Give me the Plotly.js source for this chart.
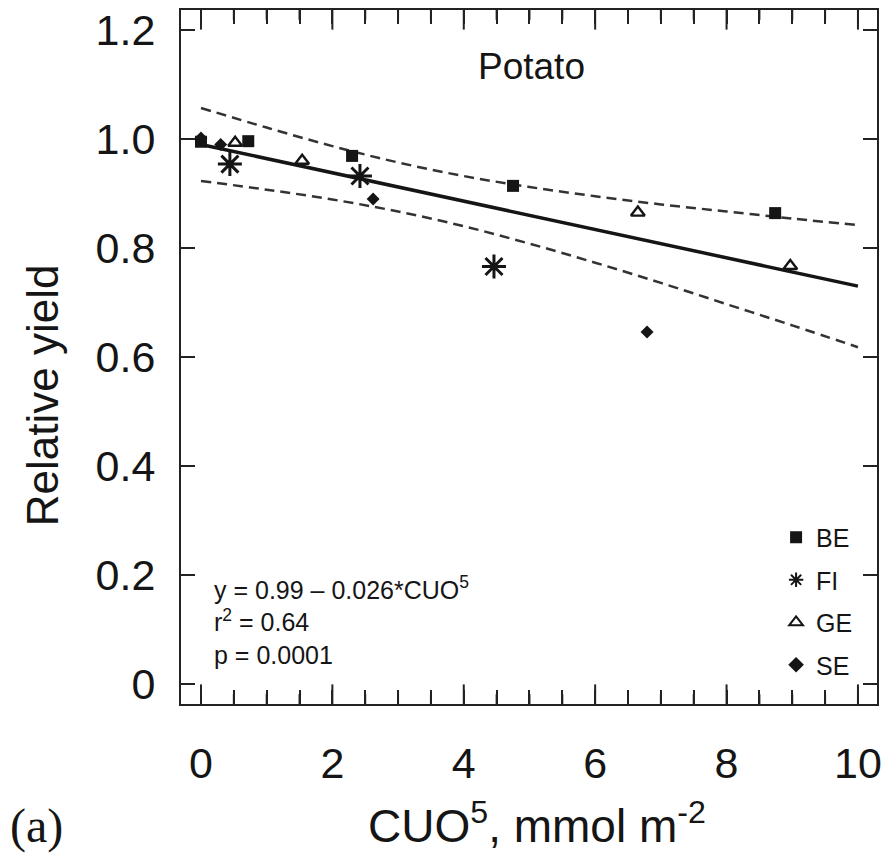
<!DOCTYPE html>
<html>
<head>
<meta charset="utf-8">
<script src="https://cdn.plot.ly/plotly-3.0.1.min.js"></script>
<style>html,body{margin:0;padding:0;background:#fff;}#chart{width:890px;height:855px;}</style>
</head>
<body>
<div id="chart"></div>
<script>
// Observed points, relative yield vs CUO5 (mmol m-2)
const beX = [0.0, 0.72, 2.30, 4.75, 8.74];
const beY = [0.995, 0.996, 0.969, 0.914, 0.864];
const fiX = [0.44, 2.42, 4.46];
const fiY = [0.954, 0.932, 0.766];
const geX = [0.52, 1.54, 6.65, 8.97];
const geY = [0.993, 0.960, 0.865, 0.767];
const seX = [0.0, 0.30, 2.62, 6.79];
const seY = [1.002, 0.990, 0.890, 0.646];

// Regression line and confidence band
const fitX = [0, 10];
const fitY = [0.99, 0.73];
const bandX = [0, 1, 2, 3, 4, 5, 6, 7, 8, 9, 10];
const upperY = [1.057, 1.021, 0.987, 0.957, 0.932, 0.912, 0.895, 0.880, 0.867, 0.854, 0.842];
const lowerY = [0.923, 0.907, 0.889, 0.867, 0.840, 0.808, 0.773, 0.736, 0.697, 0.658, 0.618];

// Axis ticks
const yTickVals = [0, 0.2, 0.4, 0.6, 0.8, 1.0, 1.2];
const yTickText = ["0", "0.2", "0.4", "0.6", "0.8", "1.0", "1.2"];
const xMajorTicks = [0, 2, 4, 6, 8, 10];
const xMinorTicks = [0.5, 1, 1.5, 2.5, 3, 3.5, 4.5, 5, 5.5, 6.5, 7, 7.5, 8.5, 9, 9.5];
const xRange = [-0.304, 10.29];

const ink = '#151515';
const FONT = 'Liberation Sans, Arial, Helvetica, sans-serif';

// tick marks on bottom (0) and top (1) edges of a hidden overlay y-axis, clipped to the plot area
function tickTrace(xs, edge, size) {
  return {x: xs.concat(xs), y: xs.map(function(){return 0;}).concat(xs.map(function(){return 1;})),
    yaxis: 'y2', mode: 'markers', showlegend: false, hoverinfo: 'skip', cliponaxis: true,
    marker: {symbol: 'line-ns-open', size: size, color: '#222', line: {color: '#222', width: 2}}};
}

const traces = [
  {x: bandX, y: upperY, mode: 'lines', line: {color: '#333', width: 2.5, dash: '10px,6px', shape: 'spline'}, showlegend: false, hoverinfo: 'skip'},
  {x: bandX, y: lowerY, mode: 'lines', line: {color: '#333', width: 2.5, dash: '10px,6px', shape: 'spline'}, showlegend: false, hoverinfo: 'skip'},
  {x: fitX, y: fitY, mode: 'lines', line: {color: ink, width: 3.5}, showlegend: false, hoverinfo: 'skip'},
  {x: beX, y: beY, mode: 'markers', name: 'BE', legendgroup: 'a',
   marker: {symbol: 'square', size: 12, color: ink}},
  {x: fiX, y: fiY, mode: 'markers', name: 'FI', legendgroup: 'b',
   marker: {symbol: 'asterisk-open', size: 20, color: ink, line: {color: ink, width: 3}}},
  {x: geX, y: geY, mode: 'markers', name: 'GE', legendgroup: 'c',
   marker: {symbol: 'triangle-up-open', size: 12, color: ink, line: {color: ink, width: 2.4}}},
  {x: seX, y: seY, mode: 'markers', name: 'SE', legendgroup: 'd',
   marker: {symbol: 'diamond', size: 10, color: ink}},
  tickTrace(xMajorTicks, 0, 28),
  tickTrace(xMinorTicks, 0, 14)
];

const layout = {
  width: 890, height: 855,
  margin: {l: 181, r: 13, t: 10, b: 151, pad: 0},
  paper_bgcolor: '#fff', plot_bgcolor: '#fff',
  font: {family: FONT, color: ink},
  showlegend: true,
  legend: {
    x: 0.855, y: 0.273, xanchor: 'left', yanchor: 'top',
    font: {family: FONT, size: 25, color: ink},
    bgcolor: 'rgba(0,0,0,0)', borderwidth: 0,
    tracegroupgap: 7, itemsizing: 'constant'
  },
  xaxis: {
    range: xRange, showgrid: false, zeroline: false,
    showline: true, linecolor: '#222', linewidth: 2, mirror: 'allticks',
    ticks: 'inside', ticklen: 14, tickwidth: 2, tickcolor: '#222',
    tickmode: 'linear', tick0: 0, dtick: 2,
    tickfont: {family: FONT, size: 43, color: ink},
    ticklabelstandoff: 20,
    minor: {dtick: 0.5, ticks: 'inside', ticklen: 7, tickwidth: 2, tickcolor: '#222'}
  },
  yaxis: {
    range: [-0.0367, 1.2367], showgrid: false, zeroline: false,
    showline: true, linecolor: '#222', linewidth: 2, mirror: 'allticks',
    ticks: 'inside', ticklen: 14, tickwidth: 2, tickcolor: '#222',
    tickmode: 'array', tickvals: yTickVals, ticktext: yTickText,
    tickfont: {family: FONT, size: 43, color: ink},
    ticklabelstandoff: 15
  },
  yaxis2: {
    overlaying: 'y', range: [0, 1], visible: false, showgrid: false, zeroline: false, fixedrange: true
  },
  annotations: [
    {xref: 'paper', yref: 'paper', x: -0.1997, y: 0.445, text: 'Relative yield', textangle: -90,
     showarrow: false, font: {family: FONT, size: 44, color: ink}, xanchor: 'center', yanchor: 'middle'},
    {xref: 'paper', yref: 'paper', x: 0.512, y: -0.172, text: 'CUO<sup>5</sup>, mmol m<sup>-2</sup>',
     showarrow: false, font: {family: FONT, size: 46, color: ink}, xanchor: 'center', yanchor: 'middle'},
    {xref: 'paper', yref: 'paper', x: -0.248, y: -0.176, text: '(a)',
     showarrow: false, font: {family: 'Liberation Serif, Times New Roman, serif', size: 48, color: ink}, xanchor: 'left', yanchor: 'middle'},
    {xref: 'paper', yref: 'paper', x: 0.504, y: 0.919, text: 'Potato',
     showarrow: false, font: {family: FONT, size: 37, color: ink}, xanchor: 'center', yanchor: 'middle'},
    {xref: 'paper', yref: 'paper', x: 0.045, y: 0.1196, align: 'left',
     text: 'y = 0.99 – 0.026*CUO<sup>5</sup><br>r<sup>2</sup> = 0.64<br>p = 0.0001',
     showarrow: false, font: {family: FONT, size: 25, color: ink}, xanchor: 'left', yanchor: 'middle'}
  ]
};

Plotly.newPlot('chart', traces, layout, {displayModeBar: false, staticPlot: true});
</script>
</body>
</html>
